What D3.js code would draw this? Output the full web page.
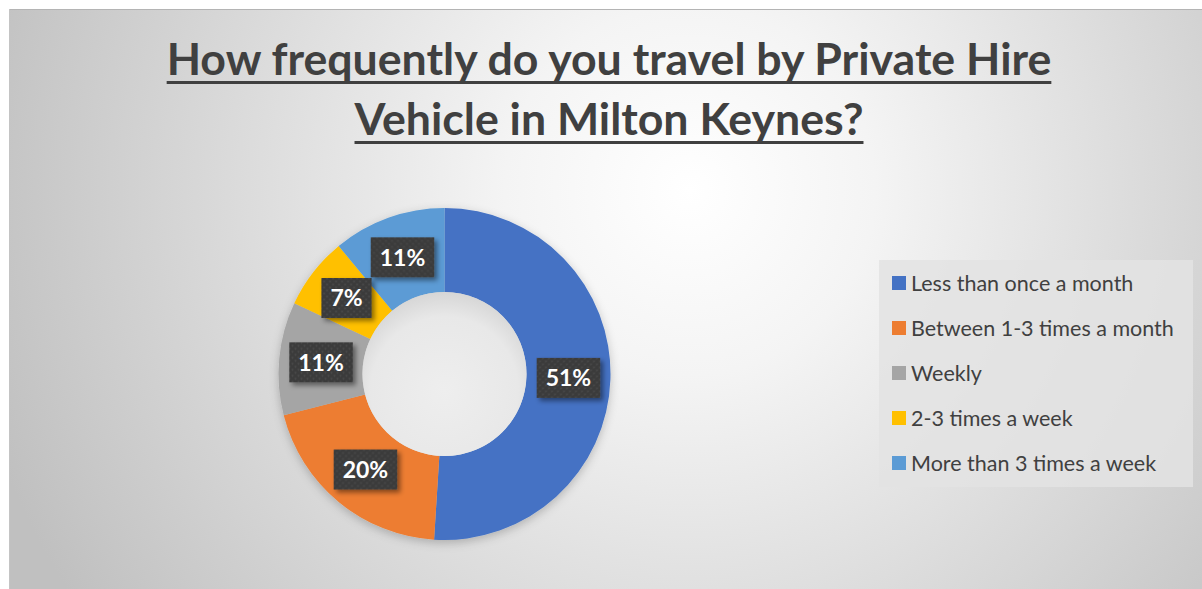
<!DOCTYPE html>
<html>
<head>
<meta charset="utf-8">
<script src="https://cdn.jsdelivr.net/npm/d3@7"></script>
<style>
  html, body { margin: 0; padding: 0; background: #ffffff; }
  svg { display: block; }
</style>
</head>
<body>
<svg id="chart" width="1202" height="589"></svg>
<script>
// Survey answers and their shares (%)
const categories = [
  "Less than once a month",
  "Between 1-3 times a month",
  "Weekly",
  "2-3 times a week",
  "More than 3 times a week"
];
const shares = [51, 20, 11, 7, 11];
const sliceColors = ["#4472C4", "#ED7D31", "#A5A5A5", "#FFC000", "#5B9BD5"];
const titleLines = ["How frequently do you travel by Private Hire", "Vehicle in Milton Keynes?"];

const W = 1202, H = 589;
const svg = d3.select("#chart");
const defs = svg.append("defs");
const FONT = "Lato, 'Open Sans', sans-serif";

// Chart-area background: soft radial grey gradient
const bg = defs.append("radialGradient").attr("id", "bgGrad")
  .attr("gradientUnits", "userSpaceOnUse")
  .attr("cx", 690).attr("cy", 190).attr("r", 740);
bg.append("stop").attr("offset", "0%").attr("stop-color", "#ffffff");
bg.append("stop").attr("offset", "25%").attr("stop-color", "#f4f4f4");
bg.append("stop").attr("offset", "100%").attr("stop-color", "#c0c0c0");

svg.append("rect").attr("x", 9).attr("y", 9).attr("width", W - 9).attr("height", H - 9)
  .attr("fill", "url(#bgGrad)");
svg.append("line").attr("x1", 9).attr("x2", W).attr("y1", 9.5).attr("y2", 9.5)
  .attr("stroke", "#b4b4b4").attr("stroke-width", 1);
svg.append("line").attr("x1", 9.5).attr("x2", 9.5).attr("y1", 9).attr("y2", H)
  .attr("stroke", "#c4c4c4").attr("stroke-width", 1);

// Title, underlined
const titleG = svg.append("g");
const titleBaselines = [75, 135];
titleLines.forEach((t, i) => {
  const txt = titleG.append("text")
    .attr("x", 609).attr("y", titleBaselines[i])
    .attr("text-anchor", "middle")
    .attr("font-family", FONT).attr("font-weight", 700)
    .attr("font-size", 41).attr("fill", "#404040")
    .text(t);
  // fit the first line to its measured width, reuse the size for the second
  if (i === 0) {
    const w = txt.node().getComputedTextLength();
    titleG.attr("data-fs", 41 * 885 / w);
  }
});
const fs = +titleG.attr("data-fs");
titleG.selectAll("text").attr("font-size", fs).each(function (d, i) {
  const w = this.getComputedTextLength();
  titleG.append("rect")
    .attr("x", 609 - w / 2).attr("y", titleBaselines[i] + 6)
    .attr("width", w).attr("height", 3)
    .attr("fill", "#404040");
});

// Donut
const cx = 444.5, cy = 374, rOuter = 166, rInner = 82;
const pie = d3.pie().sort(null).value(d => d);
const arcs = pie(shares);
const arc = d3.arc().innerRadius(rInner).outerRadius(rOuter);

const ringShadow = defs.append("filter").attr("id", "ringShadow")
  .attr("x", "-20%").attr("y", "-20%").attr("width", "140%").attr("height", "140%");
ringShadow.append("feDropShadow").attr("dx", 0).attr("dy", 3).attr("stdDeviation", 5)
  .attr("flood-color", "#000").attr("flood-opacity", 0.22);

const holeGrad = defs.append("radialGradient").attr("id", "holeGrad")
  .attr("cx", "50%").attr("cy", "60%").attr("r", "60%");
holeGrad.append("stop").attr("offset", "0%").attr("stop-color", "#eeeeee");
holeGrad.append("stop").attr("offset", "75%").attr("stop-color", "#e8e8e8");
holeGrad.append("stop").attr("offset", "100%").attr("stop-color", "#d6d6d6");

const pieG = svg.append("g").attr("transform", `translate(${cx},${cy})`);
pieG.append("g").attr("filter", "url(#ringShadow)")
  .selectAll("path").data(arcs).join("path")
  .attr("d", arc)
  .attr("fill", (d, i) => sliceColors[i]);
pieG.append("circle").attr("r", rInner).attr("fill", "url(#holeGrad)");

// Data labels: dark textured boxes with drop shadow
const pat = defs.append("pattern").attr("id", "labelTex")
  .attr("patternUnits", "userSpaceOnUse").attr("width", 6).attr("height", 6);
pat.append("rect").attr("width", 6).attr("height", 6).attr("fill", "#3b3b3b");
pat.append("circle").attr("cx", 1.5).attr("cy", 1.5).attr("r", 1).attr("fill", "#4a4a4a");
pat.append("circle").attr("cx", 4.5).attr("cy", 4.5).attr("r", 1).attr("fill", "#4a4a4a");

const boxShadow = defs.append("filter").attr("id", "boxShadow")
  .attr("x", "-30%").attr("y", "-30%").attr("width", "170%").attr("height", "170%");
boxShadow.append("feDropShadow").attr("dx", 3).attr("dy", 3).attr("stdDeviation", 2.5)
  .attr("flood-color", "#000").attr("flood-opacity", 0.45);

const labelArc = d3.arc().innerRadius((rInner + rOuter) / 2).outerRadius((rInner + rOuter) / 2);
const labels = pieG.append("g").selectAll("g").data(arcs).join("g")
  .attr("transform", d => `translate(${labelArc.centroid(d)})`);
labels.each(function (d) {
  const g = d3.select(this);
  const rect = g.append("rect").attr("fill", "url(#labelTex)").attr("filter", "url(#boxShadow)");
  const t = g.append("text")
    .attr("text-anchor", "middle").attr("dy", "0.36em")
    .attr("font-family", FONT).attr("font-weight", 700)
    .attr("font-size", 23).attr("fill", "#ffffff")
    .text(d.value + "%");
  const w = t.node().getComputedTextLength() + 18;
  rect.attr("x", -w / 2).attr("y", -20).attr("width", w).attr("height", 40);
});

// Legend
const legG = svg.append("g").attr("transform", "translate(879,260)");
legG.append("rect").attr("width", 314).attr("height", 227).attr("fill", "#e3e3e3").attr("opacity", 0.85);
const rowY = d3.scalePoint().domain(categories).range([23, 203]);
const rows = legG.selectAll("g.row").data(categories).join("g").attr("class", "row")
  .attr("transform", d => `translate(0,${rowY(d)})`);
rows.append("rect").attr("x", 13).attr("y", -7).attr("width", 14).attr("height", 14)
  .attr("fill", (d, i) => sliceColors[i]);
rows.append("text").attr("x", 32).attr("dy", "0.36em")
  .attr("font-family", FONT).attr("font-size", 21.5).attr("fill", "#404040")
  .text(d => d);
</script>
</body>
</html>
